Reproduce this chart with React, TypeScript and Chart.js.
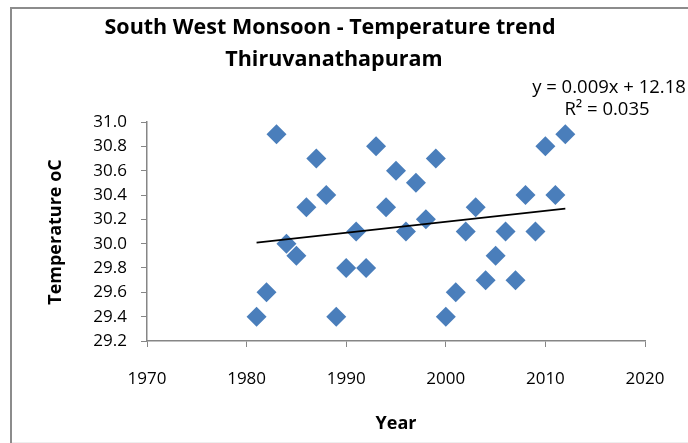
import React, { useEffect, useRef } from "react";
import { Chart, registerables } from "chart.js";

Chart.register(...registerables);

const years = [1981, 1982, 1983, 1984, 1985, 1986, 1987, 1988, 1989, 1990, 1991, 1992, 1993, 1994, 1995, 1996, 1997, 1998, 1999, 2000, 2001, 2002, 2003, 2004, 2005, 2006, 2007, 2008, 2009, 2010, 2011, 2012];
const temps = [29.4, 29.6, 30.9, 30.0, 29.9, 30.3, 30.7, 30.4, 29.4, 29.8, 30.1, 29.8, 30.8, 30.3, 30.6, 30.1, 30.5, 30.2, 30.7, 29.4, 29.6, 30.1, 30.3, 29.7, 29.9, 30.1, 29.7, 30.4, 30.1, 30.8, 30.4, 30.9];
const trendSlope = 0.009;
const trendIntercept = 12.18;
const titleLines = ["South West Monsoon - Temperature trend", "Thiruvanathapuram"];
const equationLines = ["y = 0.009x + 12.18", "R² = 0.035"];
const xTitle = "Year";
const yTitle = "Temperature oC";

const FONT = "'Open Sans', sans-serif";

export default function App() {
  const ref = useRef<HTMLCanvasElement | null>(null);
  useEffect(() => {
    if (!ref.current) return;
    const points = years.map((x, i) => ({ x, y: temps[i] }));
    const x0 = years[0];
    const x1 = years[years.length - 1];
    const trend = [
      { x: x0, y: trendSlope * x0 + trendIntercept },
      { x: x1, y: trendSlope * x1 + trendIntercept },
    ];
    const decor = {
      id: "decor",
      afterDraw(chart: any) {
        const ctx = chart.ctx;
        ctx.save();
        // frame
        ctx.strokeStyle = "#8c8c8c";
        ctx.lineWidth = 2;
        ctx.beginPath();
        ctx.moveTo(11, 443);
        ctx.lineTo(11, 8);
        ctx.lineTo(700, 8);
        ctx.stroke();
        ctx.strokeStyle = "#eeeeee";
        ctx.lineWidth = 1;
        ctx.beginPath();
        ctx.moveTo(12, 442.5);
        ctx.lineTo(688, 442.5);
        ctx.stroke();
        // title
        ctx.fillStyle = "#000";
        ctx.textAlign = "center";
        ctx.textBaseline = "middle";
        ctx.font = `bold 21.5px ${FONT}`;
        ctx.fillText(titleLines[0], 330, 28);
        ctx.fillText(titleLines[1], 334, 60);
        // equation
        ctx.font = `18.5px ${FONT}`;
        ctx.fillText(equationLines[0], 609, 88);
        ctx.fillText(equationLines[1], 607, 110);
        // axis titles
        ctx.font = `bold 18px ${FONT}`;
        ctx.fillText(xTitle, 396, 424);
        ctx.translate(56, 232);
        ctx.rotate(-Math.PI / 2);
        ctx.fillText(yTitle, 0, 0);
        ctx.restore();
      },
    };
    const chart = new Chart(ref.current, {
      type: "scatter",
      data: {
        datasets: [
          {
            label: "Temperature",
            data: points,
            pointStyle: "rectRot",
            pointRadius: 10,
            pointHoverRadius: 10,
            backgroundColor: "#4a7ebb",
            borderColor: "#4a7ebb",
            borderWidth: 0,
            order: 1,
          },
          {
            label: "Trend",
            type: "line",
            data: trend,
            borderColor: "#000",
            borderWidth: 1.8,
            pointRadius: 0,
            fill: false,
            order: 0,
          } as any,
        ],
      },
      options: {
        animation: false,
        responsive: false,
        layout: { padding: { left: 77, right: 43, top: 122, bottom: 0 } },
        plugins: { legend: { display: false }, tooltip: { enabled: false }, title: { display: false } },
        scales: {
          x: {
            type: "linear",
            min: 1970,
            max: 2020,
            afterFit: (s: any) => { s.height = 102; },
            ticks: { stepSize: 10, padding: 22, color: "#000", font: { family: FONT, size: 17 }, callback: (v: any) => String(v) },
            grid: { drawOnChartArea: false, drawTicks: true, tickLength: 6, color: "#868686" },
            border: { display: true, color: "#868686", width: 1.5 },
          },
          y: {
            type: "linear",
            min: 29.2,
            max: 31.0,
            afterFit: (s: any) => { s.width = 70; },
            ticks: { stepSize: 0.2, padding: 14, color: "#000", font: { family: FONT, size: 17 }, callback: (v: any) => Number(v).toFixed(1) },
            grid: { drawOnChartArea: false, drawTicks: true, tickLength: 6, color: "#868686" },
            border: { display: true, color: "#868686", width: 1.5 },
          },
        },
      },
      plugins: [decor],
    });
    return () => chart.destroy();
  }, []);
  return (
    <div style={{ position: "fixed", left: 0, top: 0, width: 688, height: 443, background: "#fff" }}>
      <canvas ref={ref} width={688} height={443} style={{ width: 688, height: 443, display: "block" }} />
    </div>
  );
}
